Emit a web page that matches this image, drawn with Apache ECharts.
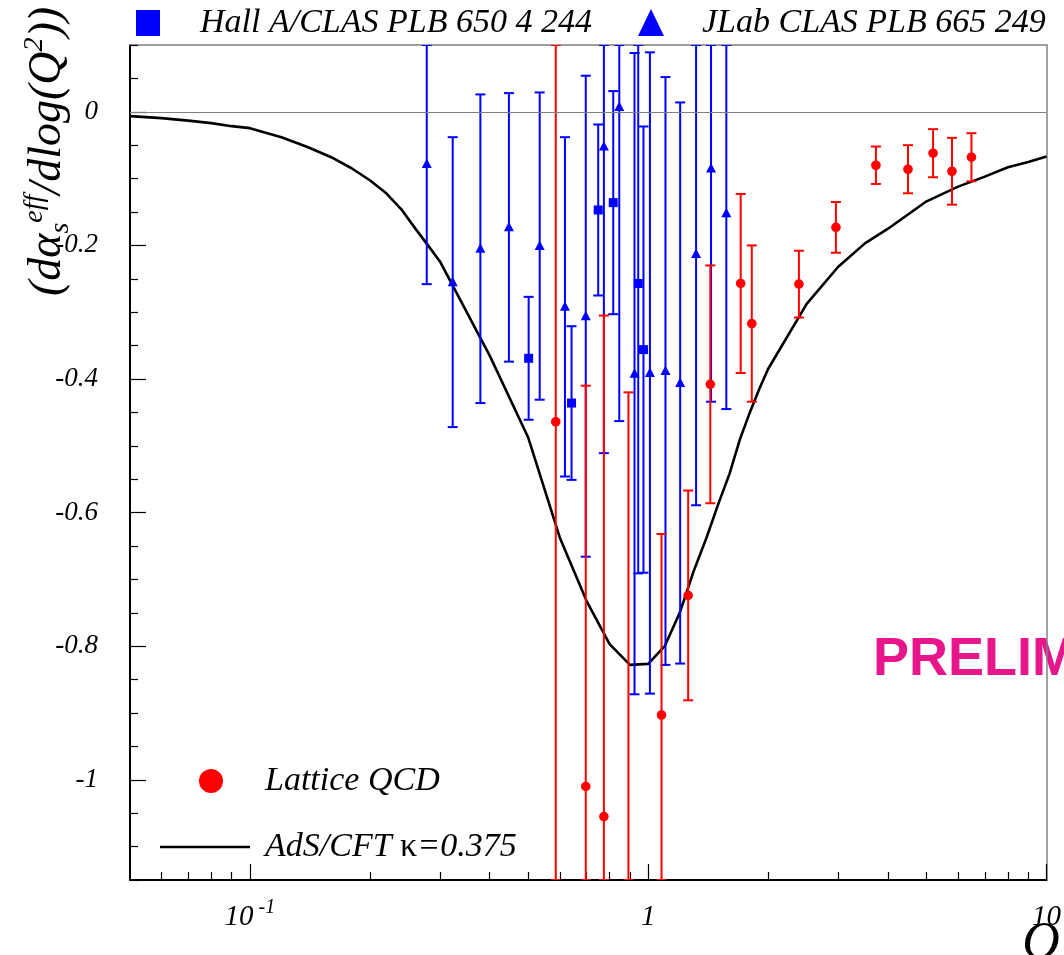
<!DOCTYPE html>
<html>
<head>
<meta charset="utf-8">
<script src="https://cdn.jsdelivr.net/npm/echarts@6/dist/echarts.min.js"></script>
<style>
  html, body { margin: 0; padding: 0; background: #fff; overflow: hidden; }
  #chart { width: 1064px; height: 955px; }
</style>
</head>
<body>
<div id="chart"></div>
<script>
// Lattice QCD: Q [GeV], d(alpha_s)/dlog(Q^2), symmetric error
const latticeQ   = [0.586, 0.697, 0.774, 0.892, 1.080, 1.260, 1.432, 1.707, 1.820, 2.39, 2.96, 3.73, 4.49, 5.19, 5.79, 6.48];
const latticeVal = [-0.464, -1.010, -1.055, -1.22, -0.903, -0.724, -0.408, -0.257, -0.317, -0.258, -0.173, -0.080, -0.086, -0.062, -0.089, -0.068];
const latticeErr = [0.80, 0.60, 0.75, 0.80, 0.271, 0.157, 0.178, 0.134, 0.117, 0.050, 0.038, 0.028, 0.036, 0.036, 0.050, 0.036];

// Hall A/CLAS (PLB 650 4 244)
const hallQ   = [0.501, 0.642, 0.749, 0.817, 0.944, 0.973];
const hallVal = [-0.369, -0.436, -0.147, -0.136, -0.257, -0.356];
const hallErr = [0.092, 0.115, 0.128, 0.167, 0.434, 0.334];

// JLab CLAS (PLB 665 249)
const clasQ   = [0.278, 0.323, 0.379, 0.447, 0.534, 0.618, 0.697, 0.774, 0.846, 0.924, 1.010, 1.105, 1.203, 1.319, 1.438, 1.571];
const clasVal = [-0.078, -0.255, -0.205, -0.173, -0.201, -0.292, -0.306, -0.052, 0.007, -0.392, -0.391, -0.388, -0.406, -0.213, -0.085, -0.152];
const clasErr = [0.18, 0.217, 0.231, 0.201, 0.23, 0.254, 0.36, 0.459, 0.47, 0.48, 0.48, 0.44, 0.42, 0.376, 0.349, 0.293];

// AdS/CFT prediction, kappa = 0.375
const adsQ   = [0.05, 0.06, 0.07, 0.08, 0.09, 0.1, 0.12, 0.14, 0.16, 0.18, 0.2, 0.22, 0.24, 0.26, 0.28, 0.3,
                0.4, 0.5, 0.6, 0.7, 0.8, 0.9, 1.0, 1.1, 1.2, 1.3, 1.4, 1.5, 1.6, 1.7, 1.8, 1.9, 2.0,
                2.5, 3.0, 3.5, 4, 5, 6, 7, 8, 9, 10];
const adsVal = [-0.0065, -0.0095, -0.0132, -0.017, -0.0215, -0.0245, -0.038, -0.053, -0.068, -0.0845, -0.1025, -0.122, -0.146, -0.1745, -0.2, -0.224,
                -0.365, -0.488, -0.6375, -0.732, -0.797, -0.828, -0.8265, -0.80, -0.75, -0.688, -0.638, -0.587, -0.542, -0.49, -0.45, -0.415, -0.385,
                -0.2875, -0.232, -0.197, -0.175, -0.134, -0.112, -0.097, -0.083, -0.075, -0.067];

// Axis ticks
const xMajorTicks = [0.1, 1, 10];
const xMinorTicks = [0.06, 0.07, 0.08, 0.09, 0.2, 0.3, 0.4, 0.5, 0.6, 0.7, 0.8, 0.9, 2, 3, 4, 5, 6, 7, 8, 9];
const yMajorTicks = [-1, -0.8, -0.6, -0.4, -0.2, 0];
const yMinorTicks = [-1.15, -1.1, -1.05, -0.95, -0.9, -0.85, -0.75, -0.7, -0.65, -0.55, -0.5, -0.45,
                     -0.35, -0.3, -0.25, -0.15, -0.1, -0.05, 0.05, 0.1];

const X_MIN = 0.05, X_MAX = 10, Y_MIN = -1.15, Y_MAX = 0.1;
const SERIF = 'Liberation Serif';

function zip3(a, b, c) { return a.map((v, i) => [v, b[i], c[i]]); }

// Error bar with caps; ends beyond the frame are pinned to it (cap drawn there)
function errorBars(marker) {
  return function (params, api) {
    const q = api.value(0), v = api.value(1), e = api.value(2);
    const hi = Math.min(v + e, Y_MAX), lo = Math.max(v - e, Y_MIN);
    const pT = api.coord([q, hi]), pB = api.coord([q, lo]), c = api.coord([q, v]);
    const color = api.visual('color');
    const st = { stroke: color, lineWidth: 2 };
    const cw = 5;
    const kids = [
      { type: 'line', shape: { x1: pT[0], y1: pT[1], x2: pB[0], y2: pB[1] }, style: st },
      { type: 'line', shape: { x1: pT[0] - cw, y1: pT[1], x2: pT[0] + cw, y2: pT[1] }, style: st },
      { type: 'line', shape: { x1: pB[0] - cw, y1: pB[1], x2: pB[0] + cw, y2: pB[1] }, style: st }
    ];
    if (v >= Y_MIN && v <= Y_MAX) {
      if (marker === 'circle') {
        kids.push({ type: 'circle', shape: { cx: c[0], cy: c[1], r: 4.8 }, style: { fill: color } });
      } else if (marker === 'square') {
        kids.push({ type: 'rect', shape: { x: c[0] - 4.5, y: c[1] - 4.5, width: 9, height: 9 }, style: { fill: color } });
      } else {
        kids.push({ type: 'polygon', shape: { points: [[c[0], c[1] - 5.5], [c[0] - 5, c[1] + 4], [c[0] + 5, c[1] + 4]] }, style: { fill: color } });
      }
    }
    return { type: 'group', children: kids };
  };
}

const chart = echarts.init(document.getElementById('chart'), null, { renderer: 'canvas' });

const labelFont = { fontFamily: SERIF, fontStyle: 'italic', color: '#000' };

function logAxis(extra) {
  return Object.assign({
    type: 'log', logBase: 10, min: X_MIN, max: X_MAX, position: 'bottom',
    axisLine: { show: false, onZero: false },
    axisTick: { show: false }, axisLabel: { show: false }, splitLine: { show: false }
  }, extra);
}
function valueAxis(extra) {
  return Object.assign({
    type: 'value', min: Y_MIN, max: Y_MAX, position: 'left',
    axisLine: { show: false, onZero: false },
    axisTick: { show: false }, axisLabel: { show: false }, splitLine: { show: false }
  }, extra);
}

const option = {
  animation: false,
  backgroundColor: '#fff',
  grid: { left: 130, top: 45, width: 918, height: 835, containLabel: false },
  xAxis: [
    logAxis({
      axisLine: { show: true, onZero: false, lineStyle: { color: '#000', width: 2 } },
      axisTick: { show: true, inside: true, length: 16, customValues: xMajorTicks, lineStyle: { color: '#000', width: 1.2 } },
      axisLabel: {
        show: true, customValues: xMajorTicks, margin: 18,
        formatter: v => (Math.abs(v - 0.1) < 1e-9 ? '{n|10}{s| -1}' : (Math.abs(v - 1) < 1e-9 ? '{n|1}' : '{n|10}')),
        rich: {
          n: Object.assign({ fontSize: 29, lineHeight: 34, verticalAlign: 'bottom' }, labelFont),
          s: Object.assign({ fontSize: 20, lineHeight: 34, verticalAlign: 'top' }, labelFont)
        }
      }
    }),
    logAxis({
      axisTick: { show: true, inside: true, length: 8, customValues: xMinorTicks, lineStyle: { color: '#000', width: 1.2 } }
    }),
    logAxis({
      position: 'top',
      axisLine: { show: true, onZero: false, lineStyle: { color: '#808080', width: 1.5 } }
    })
  ],
  yAxis: [
    valueAxis({
      axisLine: { show: true, onZero: false, lineStyle: { color: '#000', width: 2 } },
      axisTick: { show: true, inside: true, length: 16, customValues: yMajorTicks, lineStyle: { color: '#000', width: 1.2 } },
      axisLabel: Object.assign({
        show: true, customValues: yMajorTicks, margin: 32, fontSize: 27,
        formatter: v => String(Math.round(v * 10) / 10)
      }, labelFont)
    }),
    valueAxis({
      axisTick: { show: true, inside: true, length: 8, customValues: yMinorTicks, lineStyle: { color: '#000', width: 1.2 } }
    }),
    valueAxis({
      position: 'right',
      axisLine: { show: true, onZero: false, lineStyle: { color: '#808080', width: 1.5 } }
    })
  ],
  series: [
    {
      name: 'AdS/CFT κ=0.375', type: 'line', xAxisIndex: 0, yAxisIndex: 0,
      data: adsQ.map((q, i) => [q, adsVal[i]]),
      showSymbol: false, symbol: 'none', smooth: false, clip: true, z: 2,
      lineStyle: { color: '#000', width: 2.6 },
      markLine: {
        silent: true, symbol: 'none', label: { show: false },
        lineStyle: { color: '#808080', width: 1.2, type: 'solid' },
        data: [{ yAxis: 0 }]
      }
    },
    {
      name: 'Hall A/CLAS PLB 650 4 244', type: 'custom', xAxisIndex: 0, yAxisIndex: 0,
      renderItem: errorBars('square'), data: zip3(hallQ, hallVal, hallErr),
      encode: { x: 0, y: 1 }, itemStyle: { color: '#0000ff' }, clip: true, z: 3
    },
    {
      name: 'JLab CLAS PLB 665 249', type: 'custom', xAxisIndex: 0, yAxisIndex: 0,
      renderItem: errorBars('triangle'), data: zip3(clasQ, clasVal, clasErr),
      encode: { x: 0, y: 1 }, itemStyle: { color: '#0000ff' }, clip: true, z: 3
    },
    {
      name: 'Lattice QCD', type: 'custom', xAxisIndex: 0, yAxisIndex: 0,
      renderItem: errorBars('circle'), data: zip3(latticeQ, latticeVal, latticeErr),
      encode: { x: 0, y: 1 }, itemStyle: { color: '#ff0000' }, clip: true, z: 4
    }
  ],
  graphic: [
    // top legend
    { type: 'rect', shape: { x: 136, y: 10, width: 24, height: 26 }, style: { fill: '#0000ff' } },
    { type: 'text', x: 200, y: 23, style: { text: 'Hall A/CLAS PLB 650 4 244', fill: '#000', font: 'italic 34px "Liberation Serif"', verticalAlign: 'middle', align: 'left' } },
    { type: 'polygon', shape: { points: [[651, 9], [638, 36], [664, 36]] }, style: { fill: '#0000ff' } },
    { type: 'text', x: 702, y: 23, style: { text: 'JLab CLAS PLB 665 249', fill: '#000', font: 'italic 34px "Liberation Serif"', verticalAlign: 'middle', align: 'left' } },
    // in-frame legend
    { type: 'circle', shape: { cx: 211, cy: 781, r: 12 }, style: { fill: '#ff0000' } },
    { type: 'text', x: 265, y: 781, style: { text: 'Lattice QCD', fill: '#000', font: 'italic 34px "Liberation Serif"', verticalAlign: 'middle', align: 'left' } },
    { type: 'line', shape: { x1: 160, y1: 847, x2: 250, y2: 847 }, style: { stroke: '#000', lineWidth: 2.6 } },
    {
      type: 'text', x: 265, y: 847,
      style: {
        text: '{i|AdS/CFT }{k|κ}{i|=0.375}', verticalAlign: 'middle', align: 'left',
        rich: {
          i: { fontFamily: SERIF, fontStyle: 'italic', fontSize: 34, fill: '#000' },
          k: { fontFamily: SERIF, fontSize: 34, fill: '#000' }
        }
      }
    },
    // watermark
    { type: 'text', x: 873, y: 660, style: { text: 'PRELIMINARY', fill: '#e8168c', font: 'bold 54px "Liberation Sans"', verticalAlign: 'middle', align: 'left' } },
    // y axis title
    {
      type: 'text', x: 48, y: 296, rotation: Math.PI / 2,
      style: {
        text: '{t|(d}{g|α}{sb|s}{sp|eff}{t|/dlog(Q}{sp|2}{t|))}', align: 'left', verticalAlign: 'middle',
        rich: {
          t: { fontFamily: SERIF, fontStyle: 'italic', fontSize: 46, lineHeight: 54, verticalAlign: 'middle', fill: '#000' },
          g: { fontFamily: SERIF, fontStyle: 'italic', fontSize: 46, lineHeight: 54, verticalAlign: 'middle', fill: '#000' },
          sb: { fontFamily: SERIF, fontStyle: 'italic', fontSize: 28, lineHeight: 54, verticalAlign: 'bottom', fill: '#000' },
          sp: { fontFamily: SERIF, fontStyle: 'italic', fontSize: 28, lineHeight: 54, verticalAlign: 'top', fill: '#000' }
        }
      }
    },
    // x axis title
    { type: 'text', x: 1022, y: 918, style: { text: 'Q', fill: '#000', font: 'italic 52px "Liberation Serif"', verticalAlign: 'top', align: 'left' } }
  ]
};

chart.setOption(option);
</script>
</body>
</html>
